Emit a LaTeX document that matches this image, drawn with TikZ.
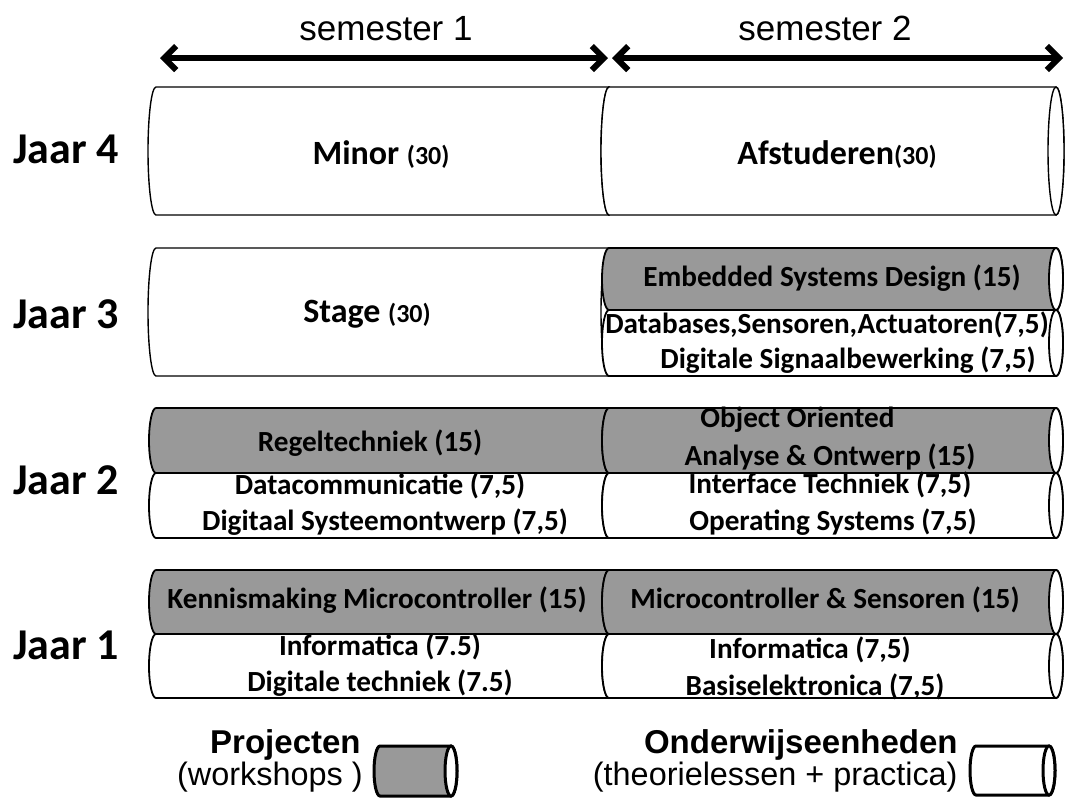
\documentclass[tikz,border=0pt]{standalone}
\usepackage{fontspec}
\setmainfont{Carlito}
\newfontfamily\arial{Liberation Sans}
\usetikzlibrary{arrows.meta}
\tikzset{
  jaar/.style = {
    font = \bfseries\fontsize{22}{24}\selectfont,
    inner sep = 0pt,
  }
}
\tikzset{
  vak/.style = {
    font = \bfseries\fontsize{14.6}{18}\selectfont,
    inner sep = 0pt,
  },
  groot/.style = {
    font = \bfseries\fontsize{17}{20}\selectfont,
    inner sep = 0pt,
  }
}
\tikzset{
  sem/.style = {
    font = \arial\fontsize{17.5}{20}\selectfont,
    inner sep = 0pt,
  },
  legkop/.style = {
    font = \arial\bfseries\fontsize{16.5}{18}\selectfont,
    inner sep = 0pt,
  },
  legsub/.style = {
    font = \arial\fontsize{16.2}{18}\selectfont,
    inner sep = 0pt,
  }
}
\tikzset{
  arrow1/.style = {
    draw = black, line width = 3pt,
    {Straight Barb[length = 6pt, width = 12pt]}-{Straight Barb[length = 6pt, width = 12pt]},
  }
}
\tikzset{
  buis/.style = {draw = black, line width = 0.9pt, fill = white},
  dun/.style = {draw = black, line width = 0.7pt, fill = white},
  project/.style = {draw = black, line width = 0.9pt, fill = black!40},
}
% cilinder: stijl, links, rechts, boven, onder, straal
\newcommand\buiscil[6]{%
  \draw[#1] (#2,-#4) arc[start angle = 90, end angle = 270, x radius = #6, y radius = {(#5-#4)/2}]
    -- (#3,-#5) arc[start angle = -90, end angle = 90, x radius = #6, y radius = {(#5-#4)/2}] -- cycle;
  \draw[#1, fill = white] (#3,{-(#4+#5)/2}) ellipse[x radius = #6, y radius = {(#5-#4)/2}];
}

\begin{document}
\begin{tikzpicture}[x = 0.5pt, y = 0.5pt]
            \useasboundingbox (0,0) rectangle (1065,-805);
            % semesters
            \coordinate (s1l) at (160,-58);
            \coordinate (s1r) at (608,-58);
            \coordinate (s2l) at (612,-58);
            \coordinate (s2r) at (1063,-58);
            \draw[arrow1](s1l) -- (s1r);
            \draw[arrow1](s2l) -- (s2r);
            \node[sem, anchor = base](sem1) at (386,-40){semester 1};
            \node[sem, anchor = base](sem2) at (825,-40){semester 2};
            % jaren
            \node[jaar, anchor = base](j4) at (66,-163){Jaar 4};
            \node[jaar, anchor = base](j3) at (66,-328){Jaar 3};
            \node[jaar, anchor = base](j2) at (66,-494){Jaar 2};
            \node[jaar, anchor = base](j1) at (66,-659){Jaar 1};
            % jaar 4
            \buiscil{dun}{156}{609}{87}{215}{8}
            \buiscil{dun}{609}{1056}{87}{215}{8}
            \node[groot](minor) at (381,-155){Minor {\fontsize{13}{14}\selectfont(30)}};
            \node[groot](afst) at (837,-155){Afstuderen{\fontsize{13}{14}\selectfont(30)}};
            % jaar 3
            \buiscil{dun}{156}{609}{248}{376}{8}
            \buiscil{project}{609}{1056}{248}{310}{7}
            \buiscil{buis}{609}{1056}{310}{376}{7}
            \node[groot](stage) at (367,-314){Stage {\fontsize{13}{14}\selectfont(30)}};
            \node[vak](esd) at (832,-278){Embedded Systems Design (15)};
            \node[vak](dsa) at (827,-325){Databases,Sensoren,Actuatoren(7,5)};
            \node[vak](dsb) at (848,-360){Digitale Signaalbewerking (7,5)};
            % jaar 2
            \buiscil{project}{156}{609}{408}{473}{7}
            \buiscil{project}{609}{1056}{408}{473}{7}
            \buiscil{buis}{156}{609}{473}{538}{7}
            \buiscil{buis}{609}{1056}{473}{538}{7}
            \node[vak](regel) at (370,-443){Regeltechniek (15)};
            \node[vak, anchor = west](ooa) at (700,-420){Object Oriented};
            \node[vak](ooo) at (830,-457){Analyse \& Ontwerp (15)};
            \node[vak](datac) at (380,-486){Datacommunicatie (7,5)};
            \node[vak](dso) at (385,-522){Digitaal Systeemontwerp (7,5)};
            \node[vak](intf) at (830,-485){Interface Techniek (7,5)};
            \node[vak](opsys) at (833,-522){Operating Systems (7,5)};
            % jaar 1
            \buiscil{project}{156}{609}{570}{634}{7}
            \buiscil{project}{609}{1056}{570}{634}{7}
            \buiscil{buis}{156}{609}{634}{698}{7}
            \buiscil{buis}{609}{1056}{634}{698}{7}
            \node[vak](kenmc) at (377,-600){Kennismaking Microcontroller (15)};
            \node[vak](mcsens) at (825,-600){Microcontroller \& Sensoren (15)};
            \node[vak](info1) at (380,-647){Informatica (7.5)};
            \node[vak](digtech) at (380,-683){Digitale techniek (7.5)};
            \node[vak](info2) at (810,-650){Informatica (7,5)};
            \node[vak](basis) at (815,-687){Basiselektronica (7,5)};
            % legenda
            \buiscil{project, line width = 1.5pt}{380}{451}{746}{796}{6}
            \buiscil{buis, line width = 1.5pt}{976}{1049}{746}{795}{6}
            \node[legkop, anchor = base east](proj) at (361,-753){Projecten};
            \node[legsub, anchor = base east](works) at (363,-785){(workshops )};
            \node[legkop, anchor = base east](onderw) at (958,-753){Onderwijseenheden};
            \node[legsub, anchor = base east](theor) at (958,-785){(theorielessen + practica)};
        \end{tikzpicture}
\end{document}
